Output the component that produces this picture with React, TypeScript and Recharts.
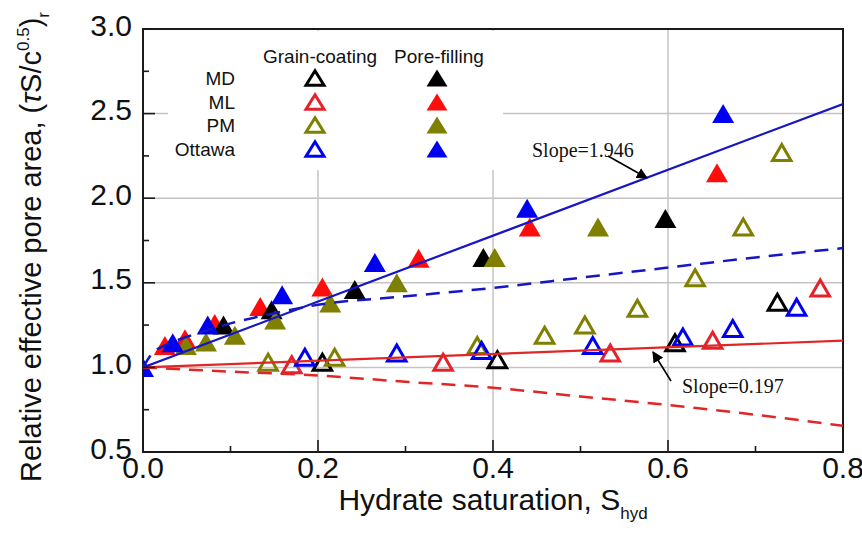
import React from 'react';
import {
  ComposedChart, XAxis, YAxis, CartesianGrid, Scatter, Line, ReferenceArea,
} from 'recharts';

// ---- data ----
const xTicks = [0, 0.1, 0.2, 0.3, 0.4, 0.5, 0.6, 0.7, 0.8];
const yTicks = [0.5, 0.75, 1.0, 1.25, 1.5, 1.75, 2.0, 2.25, 2.5, 2.75, 3.0];
const xGrid = [0.2, 0.4, 0.6];
const yGrid = [1.0, 1.5, 2.0, 2.5];

// Grain-coating (hollow)
const mdGC = [
  { x: 0.205, y: 1.03 }, { x: 0.405, y: 1.045 }, { x: 0.608, y: 1.145 }, { x: 0.725, y: 1.385 },
];
const mlGC = [
  { x: 0.17, y: 1.015 }, { x: 0.343, y: 1.03 }, { x: 0.534, y: 1.085 }, { x: 0.651, y: 1.16 }, { x: 0.774, y: 1.47 },
];
const pmGC = [
  { x: 0.143, y: 1.03 }, { x: 0.219, y: 1.06 }, { x: 0.382, y: 1.13 }, { x: 0.459, y: 1.19 },
  { x: 0.505, y: 1.25 }, { x: 0.565, y: 1.35 }, { x: 0.631, y: 1.53 }, { x: 0.686, y: 1.83 }, { x: 0.73, y: 2.27 },
];
const ottawaGC = [
  { x: 0.185, y: 1.06 }, { x: 0.29, y: 1.085 }, { x: 0.387, y: 1.1 }, { x: 0.514, y: 1.13 },
  { x: 0.617, y: 1.18 }, { x: 0.674, y: 1.23 }, { x: 0.747, y: 1.355 },
];

// Pore-filling (filled)
const mdPF = [
  { x: 0.092, y: 1.25 }, { x: 0.147, y: 1.34 }, { x: 0.242, y: 1.46 }, { x: 0.389, y: 1.65 }, { x: 0.597, y: 1.88 },
];
const mlPF = [
  { x: 0.025, y: 1.13 }, { x: 0.048, y: 1.17 }, { x: 0.082, y: 1.26 }, { x: 0.134, y: 1.36 },
  { x: 0.205, y: 1.475 }, { x: 0.315, y: 1.645 }, { x: 0.442, y: 1.83 }, { x: 0.656, y: 2.15 },
];
const pmPF = [
  { x: 0.049, y: 1.13 }, { x: 0.072, y: 1.15 }, { x: 0.105, y: 1.19 }, { x: 0.151, y: 1.28 },
  { x: 0.214, y: 1.38 }, { x: 0.29, y: 1.5 }, { x: 0.402, y: 1.65 }, { x: 0.52, y: 1.83 },
];
const ottawaPF = [
  { x: 0, y: 1.0 }, { x: 0.034, y: 1.145 }, { x: 0.074, y: 1.25 }, { x: 0.159, y: 1.43 },
  { x: 0.265, y: 1.62 }, { x: 0.439, y: 1.94 }, { x: 0.663, y: 2.5 },
];

// Fit lines and bounds
const blueFit = [{ x: 0, y: 1.0 }, { x: 0.8, y: 2.557 }];
const redFit = [{ x: 0, y: 1.0 }, { x: 0.8, y: 1.158 }];
const blueDashed = [
  { x: 0, y: 1.0 }, { x: 0.01, y: 1.08 }, { x: 0.025, y: 1.13 }, { x: 0.05, y: 1.18 },
  { x: 0.1, y: 1.26 }, { x: 0.15, y: 1.32 }, { x: 0.2, y: 1.37 }, { x: 0.3, y: 1.42 },
  { x: 0.4, y: 1.47 }, { x: 0.5, y: 1.53 }, { x: 0.6, y: 1.59 }, { x: 0.7, y: 1.65 }, { x: 0.8, y: 1.705 },
];
const redDashed = [
  { x: 0, y: 1.0 }, { x: 0.1, y: 0.975 }, { x: 0.2, y: 0.952 }, { x: 0.3, y: 0.915 },
  { x: 0.4, y: 0.88 }, { x: 0.5, y: 0.828 }, { x: 0.6, y: 0.778 }, { x: 0.7, y: 0.72 }, { x: 0.8, y: 0.655 },
];

const legendRows = ['MD', 'ML', 'PM', 'Ottawa'];
const legendHeaders = ['Grain-coating', 'Pore-filling'];
const slopeLabels = ['Slope=1.946', 'Slope=0.197'];

// ---- styles ----
const C = {
  md: '#000000',
  mlHollow: '#e5222a',
  mlFill: '#ff0d0d',
  pm: '#7f7f00',
  ottawa: '#0000f0',
  blueLine: '#1616c4',
  redLine: '#e02626',
  axis: '#1a1a1a',
  grid: '#c4c4c4',
};
const SANS = '"Liberation Sans", Arial, Helvetica, sans-serif';
const SERIF = '"Liberation Serif", "Times New Roman", Times, serif';

function tri(cx: number, cy: number, w: number, h: number) {
  return `${cx},${cy - h / 2} ${cx + w / 2},${cy + h / 2} ${cx - w / 2},${cy + h / 2}`;
}

const makeShape = (color: string, filled: boolean) => (props: any) => {
  const { cx, cy } = props;
  if (cx == null || cy == null) return <g />;
  return filled ? (
    <polygon points={tri(cx, cy, 22, 19)} fill={color} />
  ) : (
    <polygon points={tri(cx, cy, 18.5, 16)} fill="none" stroke={color} strokeWidth={3} />
  );
};

const XTick = (props: any) => {
  const { x, y, payload } = props;
  const v = payload.value as number;
  const major = Math.round(v * 10) % 2 === 0;
  return (
    <g>
      <line x1={x} x2={x} y1={y} y2={y - (major ? 12 : 6)} stroke={C.axis} strokeWidth={1.6} />
      {major && (
        <text x={x} y={y + 26} textAnchor="middle" fontSize={30} fontFamily={SANS} fill="#111">
          {v.toFixed(1)}
        </text>
      )}
    </g>
  );
};

const YTick = (props: any) => {
  const { x, y, payload } = props;
  const v = payload.value as number;
  const major = Math.round(v * 4) % 2 === 0;
  return (
    <g>
      <line x1={x} x2={x + (major ? 12 : 6)} y1={y} y2={y} stroke={C.axis} strokeWidth={1.6} />
      {major && (
        <text x={x - 11} y={y - 4} dy="0.355em" textAnchor="end" fontSize={30} fontFamily={SANS} fill="#111">
          {v.toFixed(1)}
        </text>
      )}
    </g>
  );
};

const XTitle = () => (
  <text x={493} y={510} textAnchor="middle" fontSize={30} fontFamily={SANS} fill="#111">
    Hydrate saturation, S
    <tspan fontSize={17} dy={9}>hyd</tspan>
  </text>
);

const YTitle = () => (
  <text
    x={41}
    y={247}
    transform="rotate(-90 41 247)"
    textAnchor="middle"
    fontSize={29}
    fontFamily={SANS}
    fill="#111"
  >
    Relative effective pore area, (
    <tspan fontStyle="italic">τ</tspan>
    S/c
    <tspan fontSize={17} dy={-12}>0.5</tspan>
    <tspan dy={12}>)</tspan>
    <tspan fontSize={17} dy={8}>r</tspan>
  </text>
);

const Overlay = () => {
  const rowY = [85, 109, 132, 156];
  const rowColors = [
    [C.md, C.md],
    [C.mlHollow, C.mlFill],
    [C.pm, C.pm],
    [C.ottawa, C.ottawa],
  ];
  return (
    <svg
      width={862}
      height={534}
      style={{ position: 'absolute', left: 0, top: 0, pointerEvents: 'none' }}
    >
      <defs>
        <marker id="ah" viewBox="0 0 10 10" refX="9" refY="5" markerWidth="7" markerHeight="7" orient="auto">
          <path d="M0,0 L10,5 L0,10 z" fill="#000" />
        </marker>
      </defs>
      {/* legend */}
      <rect x={168} y={31} width={335} height={139} fill="#fff" />
      <text x={320} y={63} textAnchor="middle" fontSize={19} fontFamily={SANS} fill="#111">
        {legendHeaders[0]}
      </text>
      <text x={439} y={63} textAnchor="middle" fontSize={19} fontFamily={SANS} fill="#111">
        {legendHeaders[1]}
      </text>
      {legendRows.map((r, i) => (
        <g key={r}>
          <text x={235} y={rowY[i]} textAnchor="end" fontSize={19} fontFamily={SANS} fill="#111">
            {r}
          </text>
          <polygon points={tri(315, rowY[i] - 7, 18, 14.5)} fill="none" stroke={rowColors[i][0]} strokeWidth={3} />
          <polygon points={tri(437, rowY[i] - 7, 21, 17)} fill={rowColors[i][1]} />
        </g>
      ))}
      {/* annotations */}
      <text x={532} y={157} fontSize={20} fontFamily={SERIF} fill="#111">
        {slopeLabels[0]}
      </text>
      <line x1={608} y1={156} x2={647} y2={178} stroke="#000" strokeWidth={1.6} markerEnd="url(#ah)" />
      <text x={682} y={393} fontSize={20} fontFamily={SERIF} fill="#111">
        {slopeLabels[1]}
      </text>
      <line x1={671} y1={381} x2={653} y2={352} stroke="#000" strokeWidth={1.6} markerEnd="url(#ah)" />
    </svg>
  );
};

export default function App() {
  return (
    <div style={{ position: 'absolute', left: 0, top: 0, width: 862, height: 534, background: '#fff' }}>
      <ComposedChart
        width={862}
        height={534}
        margin={{ top: 29, right: 19, bottom: 0, left: 0 }}
        style={{ fontFamily: SANS }}
      >
        <CartesianGrid
          stroke={C.grid}
          strokeWidth={1.5}
          horizontalValues={yGrid}
          verticalValues={xGrid}
        />
        <XAxis
          type="number"
          dataKey="x"
          domain={[0, 0.8]}
          ticks={xTicks}
          interval={0}
          height={82}
          tickSize={0}
          tickMargin={0}
          tickLine={false}
          tick={<XTick />}
          axisLine={{ stroke: C.axis, strokeWidth: 2 }}
          allowDataOverflow
        />
        <YAxis
          type="number"
          dataKey="y"
          domain={[0.5, 3.0]}
          ticks={yTicks}
          interval={0}
          width={143}
          tickSize={0}
          tickMargin={0}
          tickLine={false}
          tick={<YTick />}
          axisLine={{ stroke: C.axis, strokeWidth: 2 }}
          allowDataOverflow
        />
        <ReferenceArea x1={0} x2={0.8} y1={0.5} y2={3.0} fill="none" stroke={C.axis} strokeWidth={2} fillOpacity={0} />

        <Scatter name="MD GC" data={mdGC} dataKey="y" shape={makeShape(C.md, false)} isAnimationActive={false} />
        <Scatter name="ML GC" data={mlGC} dataKey="y" shape={makeShape(C.mlHollow, false)} isAnimationActive={false} />
        <Scatter name="PM GC" data={pmGC} dataKey="y" shape={makeShape(C.pm, false)} isAnimationActive={false} />
        <Scatter name="Ottawa GC" data={ottawaGC} dataKey="y" shape={makeShape(C.ottawa, false)} isAnimationActive={false} />
        <Scatter name="ML PF" data={mlPF} dataKey="y" shape={makeShape(C.mlFill, true)} isAnimationActive={false} />
        <Scatter name="MD PF" data={mdPF} dataKey="y" shape={makeShape(C.md, true)} isAnimationActive={false} />
        <Scatter name="PM PF" data={pmPF} dataKey="y" shape={makeShape(C.pm, true)} isAnimationActive={false} />
        <Scatter name="Ottawa PF" data={ottawaPF} dataKey="y" shape={makeShape(C.ottawa, true)} isAnimationActive={false} />

        <Line data={redDashed} dataKey="y" type="monotone" stroke={C.redLine} strokeWidth={2.5} strokeDasharray="14 9" dot={false} isAnimationActive={false} zIndex={700} />
        <Line data={blueDashed} dataKey="y" type="monotone" stroke={C.blueLine} strokeWidth={2.5} strokeDasharray="14 9" dot={false} isAnimationActive={false} zIndex={700} />
        <Line data={redFit} dataKey="y" type="linear" stroke={C.redLine} strokeWidth={2.2} dot={false} isAnimationActive={false} zIndex={700} />
        <Line data={blueFit} dataKey="y" type="linear" stroke={C.blueLine} strokeWidth={2.2} dot={false} isAnimationActive={false} zIndex={700} />
      </ComposedChart>
      <svg width={862} height={534} style={{ position: 'absolute', left: 0, top: 0, pointerEvents: 'none' }}>
        <XTitle />
        <YTitle />
      </svg>
      <Overlay />
    </div>
  );
}
